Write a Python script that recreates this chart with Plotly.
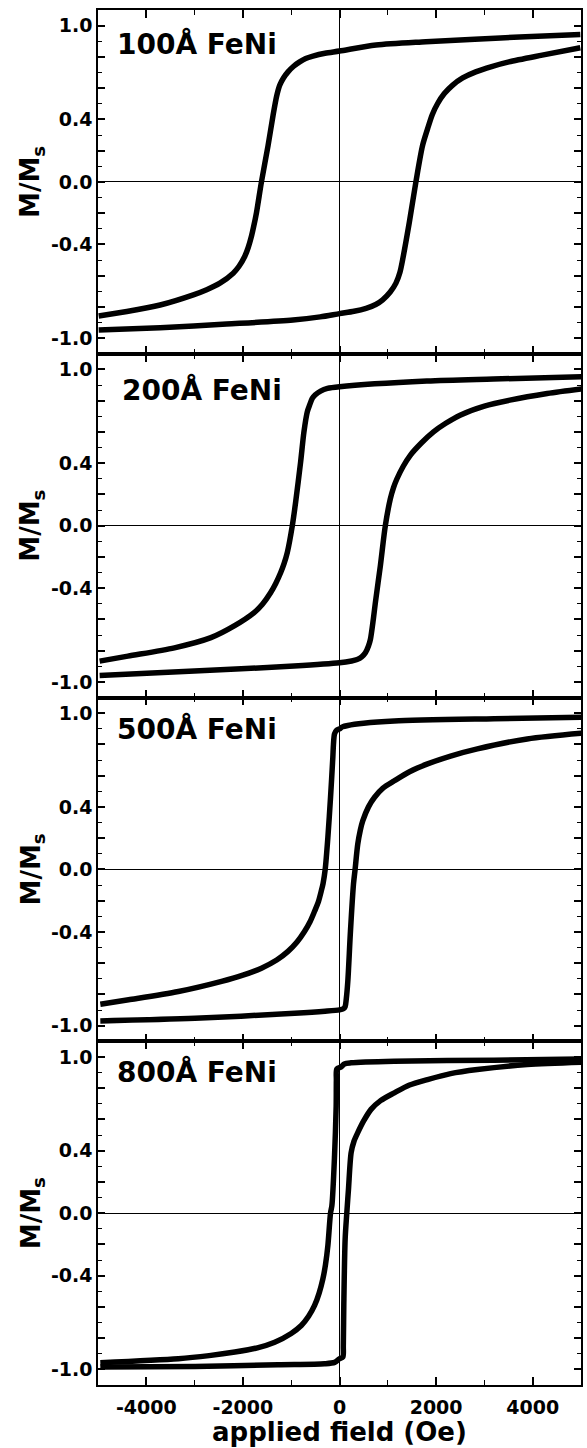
import plotly.graph_objects as go
from plotly.subplots import make_subplots

# ---------------- data (field in Oe, M/Ms) ----------------
panel_labels = ["100Å FeNi", "200Å FeNi", "500Å FeNi", "800Å FeNi"]

# 100 Å
h100_down = [4986, 3850, 2800, 1788, 756, 0, -300, -550, -700, -825, -950, -1066, -1160, -1238, -1300, -1376, -1479, -1616, -1719, -1780, -1823, -1890, -1960, -2080, -2201, -2476, -2750, -3026, -3714, -4402, -4986]
m100_down = [0.944, 0.929, 0.913, 0.897, 0.876, 0.837, 0.823, 0.805, 0.790, 0.768, 0.740, 0.704, 0.665, 0.618, 0.550, 0.425, 0.232, 0.0, -0.197, -0.290, -0.348, -0.420, -0.476, -0.540, -0.584, -0.648, -0.690, -0.723, -0.788, -0.830, -0.858]
h100_up = [-4986, -3714, -2338, -963, -400, 0, 300, 550, 750, 894, 1050, 1169, 1250, 1307, 1444, 1582, 1719, 1823, 1920, 2029, 2170, 2338, 2550, 2820, 3150, 3508, 4195, 4986]
m100_up = [-0.948, -0.933, -0.910, -0.884, -0.864, -0.843, -0.828, -0.809, -0.785, -0.755, -0.705, -0.648, -0.580, -0.498, -0.262, 0.0, 0.232, 0.339, 0.430, 0.500, 0.565, 0.618, 0.665, 0.704, 0.738, 0.768, 0.811, 0.858]

# 200 Å
h200_down = [5007, 3184, 1809, 0, -250, -392, -500, -564, -620, -667, -736, -805, -908, -977, -1080, -1150, -1217, -1320, -1424, -1600, -1768, -2180, -2662, -3418, -4381, -4966]
m200_down = [0.953, 0.938, 0.925, 0.889, 0.878, 0.861, 0.838, 0.814, 0.770, 0.728, 0.600, 0.407, 0.150, 0.0, -0.171, -0.245, -0.300, -0.370, -0.428, -0.505, -0.557, -0.642, -0.717, -0.782, -0.835, -0.867]
h200_up = [-4966, -3005, -942, 0, 250, 364, 460, 536, 600, 640, 700, 743, 846, 949, 1052, 1120, 1190, 1320, 1465, 1700, 1946, 2200, 2496, 3000, 3527, 4300, 5007]
m200_up = [-0.959, -0.931, -0.899, -0.878, -0.866, -0.857, -0.840, -0.814, -0.770, -0.728, -0.600, -0.492, -0.257, 0.0, 0.171, 0.245, 0.300, 0.380, 0.450, 0.530, 0.600, 0.655, 0.707, 0.765, 0.803, 0.845, 0.874]

# 500 Å
h500_down = [5034, 3198, 1135, 500, 172, 60, 0, -60, -103, -125, -138, -186, -241, -296, -340, -378, -440, -516, -610, -722, -880, -1066, -1300, -1616, -2000, -2441, -3336, -4367, -4952]
m500_down = [0.974, 0.964, 0.949, 0.935, 0.921, 0.912, 0.899, 0.890, 0.867, 0.800, 0.717, 0.460, 0.203, 0.0, -0.090, -0.139, -0.210, -0.268, -0.335, -0.396, -0.465, -0.525, -0.580, -0.632, -0.677, -0.717, -0.782, -0.835, -0.863]
h500_up = [-4952, -2991, -928, -300, 0, 80, 117, 140, 172, 227, 289, 323, 378, 430, 481, 600, 722, 900, 1135, 1450, 1823, 2300, 2854, 3886, 5020]
m500_up = [-0.970, -0.953, -0.921, -0.908, -0.899, -0.892, -0.878, -0.830, -0.717, -0.396, -0.096, 0.0, 0.161, 0.250, 0.310, 0.400, 0.460, 0.520, 0.567, 0.625, 0.675, 0.725, 0.771, 0.835, 0.872]

# 800 Å
h800_down = [5020, 3198, 1135, 241, 100, 34, -55, -65, -69, -103, -158, -186, -241, -290, -344, -420, -516, -640, -791, -1000, -1341, -1700, -2166, -2700, -3336, -4952]
m800_down = [0.987, 0.979, 0.972, 0.962, 0.955, 0.936, 0.923, 0.850, 0.685, 0.366, 0.047, 0.0, -0.209, -0.330, -0.421, -0.510, -0.591, -0.660, -0.719, -0.770, -0.826, -0.862, -0.889, -0.912, -0.932, -0.957]
h800_up = [-4952, -2991, -1272, -309, -100, 0, 69, 79, 89, 117, 151, 186, 241, 300, 378, 500, 653, 850, 1135, 1450, 1823, 2300, 2854, 3886, 5020]
m800_up = [-0.985, -0.981, -0.970, -0.964, -0.955, -0.932, -0.921, -0.850, -0.591, -0.166, 0.0, 0.153, 0.387, 0.460, 0.515, 0.590, 0.664, 0.720, 0.770, 0.820, 0.855, 0.893, 0.919, 0.951, 0.966]

label_pos_h = [-4656, -4553, -4640, -4656]
label_pos_m = [0.88, 0.866, 0.897, 0.906]

x_tickvals = [-4000, -2000, 0, 2000, 4000]
x_ticktext = ["-4000", "-2000", "0", "2000", "4000"]
y_tickvals = [-1.0, -0.8, -0.6, -0.4, -0.2, 0.0, 0.2, 0.4, 0.6, 0.8, 1.0]
y_ticktext = ["-1.0", "", "", "-0.4", "", "0.0", "", "0.4", "", "", "1.0"]

branches = [
    (h100_down, m100_down, h100_up, m100_up),
    (h200_down, m200_down, h200_up, m200_up),
    (h500_down, m500_down, h500_up, m500_up),
    (h800_down, m800_down, h800_up, m800_up),
]

FONT = "DejaVu Sans"

fig = make_subplots(rows=4, cols=1, shared_xaxes=True, vertical_spacing=0)

for i, (hd, md, hu, mu) in enumerate(branches):
    r = i + 1
    sfx = "" if r == 1 else str(r)
    # zero reference line along field = 0
    fig.add_shape(type="line", xref="x" + sfx, yref="y" + sfx + " domain",
                  x0=0, x1=0, y0=0, y1=1, layer="below",
                  line=dict(color="black", width=1))
    for hx, my in ((hd, md), (hu, mu)):
        fig.add_trace(go.Scatter(x=hx, y=my, mode="lines",
                                 line=dict(color="black", width=5.5, shape="spline", smoothing=0.8),
                                 showlegend=False, hoverinfo="skip"), row=r, col=1)
    fig.add_annotation(x=label_pos_h[i], y=label_pos_m[i], xref="x" + sfx, yref="y" + sfx,
                       text=panel_labels[i], showarrow=False, xanchor="left", yanchor="middle",
                       font=dict(family=FONT, size=28, color="black", weight="bold"))
    fig.add_annotation(x=0, y=0.5, xref="paper", yref="y" + sfx + " domain",
                       xanchor="center", yanchor="middle", xshift=-66, textangle=-90,
                       text="M/M<sub>s</sub>", showarrow=False,
                       font=dict(family=FONT, size=26, color="black", weight="bold"))

    fig.update_yaxes(row=r, col=1, range=[-1.1, 1.1], tickvals=y_tickvals, ticktext=y_ticktext,
                     ticks="inside", ticklen=7, tickwidth=1.5, tickcolor="black",
                     showline=True, linecolor="black", linewidth=1.5, mirror="ticks",
                     showgrid=False, zeroline=True, zerolinecolor="black", zerolinewidth=1,
                     tickfont=dict(family=FONT, size=19, color="black", weight="bold"),
                     minor=dict(dtick=0.1, tick0=0, ticks="inside", ticklen=4, tickwidth=1.2,
                                tickcolor="black", showgrid=False))
    fig.update_xaxes(row=r, col=1, range=[-5000, 5000], tickvals=x_tickvals, ticktext=x_ticktext,
                     ticks="inside", ticklen=8, tickwidth=1.5, tickcolor="black",
                     showline=True, linecolor="black", linewidth=1.5, mirror="ticks",
                     showgrid=False, zeroline=False,
                     showticklabels=(r == 4),
                     tickfont=dict(family=FONT, size=19, color="black", weight="bold"),
                     minor=dict(dtick=1000, tick0=0, ticks="inside", ticklen=5, tickwidth=1.2,
                                tickcolor="black", showgrid=False))

fig.update_xaxes(row=4, col=1, ticklabelstandoff=4)

fig.add_annotation(x=0.5, y=0, xref="paper", yref="paper", yanchor="middle", xanchor="center",
                   yshift=-47, text="applied field (Oe)", showarrow=False,
                   font=dict(family=FONT, size=26, color="black", weight="bold"))

fig.update_layout(width=587, height=1448, margin=dict(l=98, r=4, t=10, b=63),
                  paper_bgcolor="white", plot_bgcolor="white", showlegend=False)

fig.write_html("out.html")
